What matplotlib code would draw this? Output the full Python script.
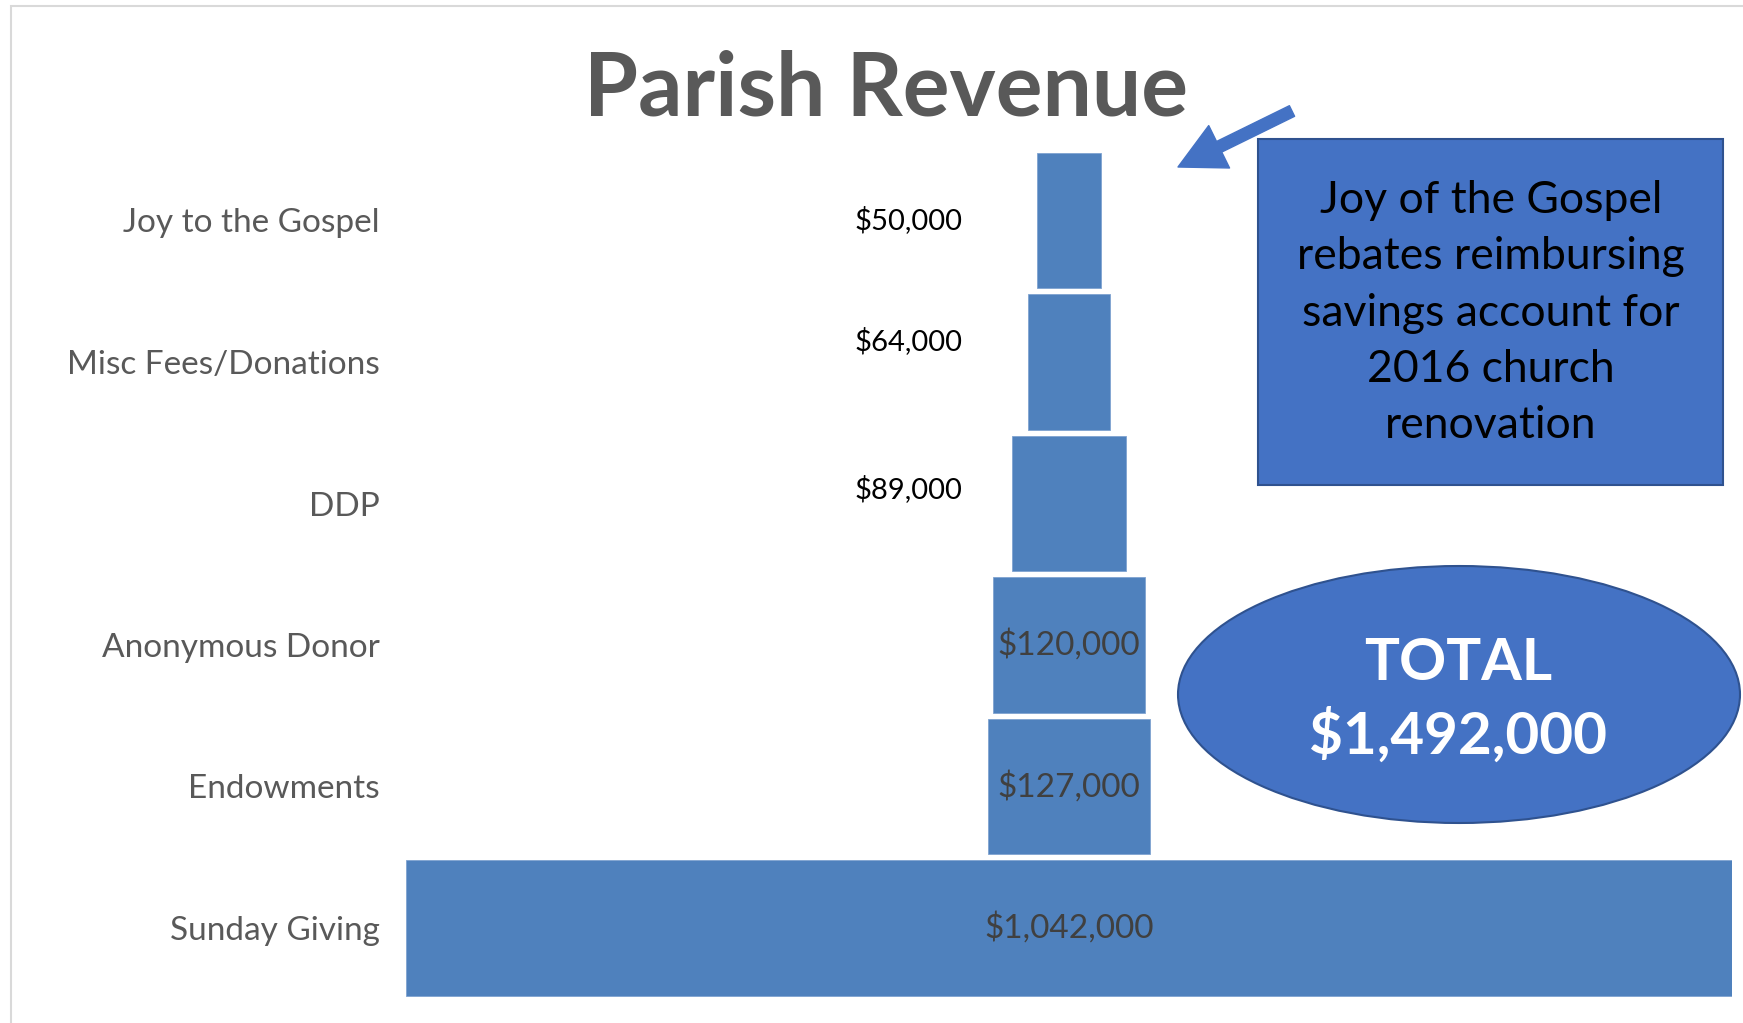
import numpy as np
import matplotlib.pyplot as plt
from matplotlib.patches import Rectangle, Ellipse, FancyArrowPatch

W, H = 1743, 1023

categories = ['Joy to the Gospel', 'Misc Fees/Donations', 'DDP',
              'Anonymous Donor', 'Endowments', 'Sunday Giving']
values = np.array([50000, 64000, 89000, 120000, 127000, 1042000])
total = 1492000
note = 'Joy of the Gospel\nrebates reimbursing\nsavings account for\n2016 church\nrenovation'

# small vertical nudges for the outside labels (rows)
label_dy = [0.0, 0.15, 0.10, 0, 0, 0]

plt.rcParams['font.family'] = ['Lato', 'DejaVu Sans']

def fx(x):
    return x / W

def fy(y):
    return 1 - y / H

fig = plt.figure(figsize=(W / 100, H / 100), dpi=100)

# light frame around the chart area
fig.patches.append(Rectangle((fx(11), fy(H + 20)), 1.2, fy(6) - fy(H + 20),
                             transform=fig.transFigure, fill=False,
                             edgecolor='#D9D9D9', linewidth=1.5))

ax = fig.add_axes([fx(406), fy(998.75), 1326 / W, 849 / H])
ypos = np.arange(len(categories))[::-1]
ax.barh(ypos, values, left=-values / 2, height=0.96, color='#4F81BD',
        edgecolor='#7FA3D0', linewidth=0.6)
ax.set_xlim(-521000, 521000)
ax.set_ylim(-0.5, len(categories) - 0.5)
ax.set_yticks(ypos)
ax.set_yticklabels(categories, fontsize=24, color='#595959')
ax.tick_params(axis='y', length=0, pad=19)
ax.set_xticks([])
for s in ax.spines.values():
    s.set_visible(False)

for i, (yy, v) in enumerate(zip(ypos, values)):
    txt = f'${v:,}'
    if v >= 100000:
        ax.text(0, yy, txt, ha='center', va='center', fontsize=24, color='#404040')
    else:
        ax.text(-84000, yy + label_dy[i], txt, ha='right', va='center',
                fontsize=21, color='black')

fig.text(fx(886), fy(116), 'Parish Revenue', ha='center', va='baseline',
         fontsize=63, fontweight='bold', color='#595959')

# note box
fig.patches.append(Rectangle((fx(1258), fy(485)), (1723 - 1258) / W, (485 - 139) / H,
                             transform=fig.transFigure, facecolor='#4472C4',
                             edgecolor='#2F528F', linewidth=1.5))
fig.text(fx(1491), fy(313), note, ha='center', va='center', fontsize=32,
         color='black', linespacing=1.46)

# arrow pointing to the top bar
fig.patches.append(FancyArrowPatch((fx(1292), fy(111)), (fx(1178), fy(167)),
                                   transform=fig.transFigure,
                                   arrowstyle='simple,head_length=33,head_width=34,tail_width=8.5',
                                   mutation_scale=1, shrinkA=0, shrinkB=0,
                                   color='#4472C4'))

# total ellipse
fig.patches.append(Ellipse((fx(1459), fy(694.5)), 562 / W, 257 / H,
                           transform=fig.transFigure, facecolor='#4472C4',
                           edgecolor='#2F528F', linewidth=1.5))
fig.text(fx(1458), fy(680), 'TOTAL', ha='center', va='baseline', fontsize=42,
         fontweight='bold', color='white')
fig.text(fx(1458), fy(754), f'${total:,}', ha='center', va='baseline', fontsize=42,
         fontweight='bold', color='white')

fig.savefig('out.png', dpi=100)
